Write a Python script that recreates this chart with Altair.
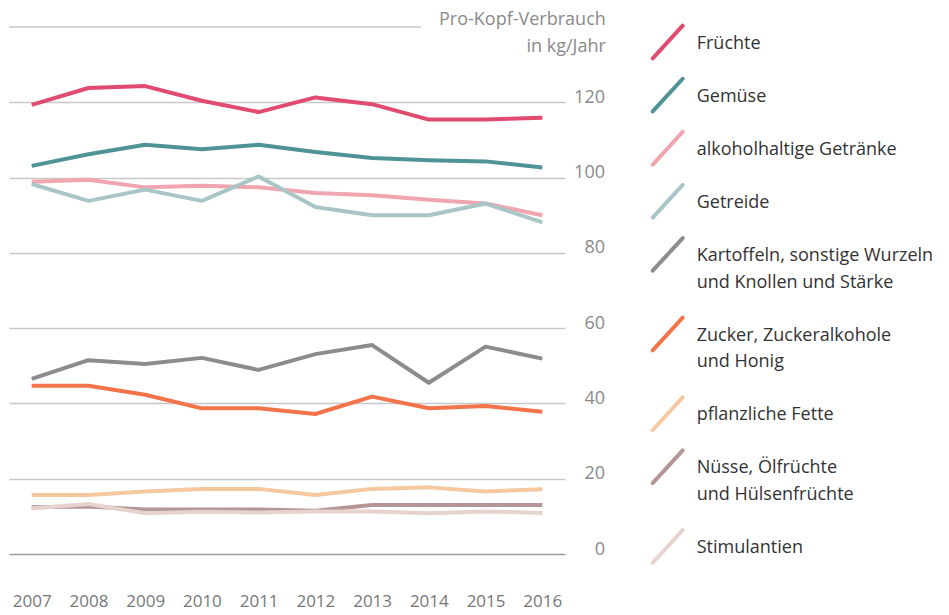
import altair as alt
import pandas as pd

years = [2007, 2008, 2009, 2010, 2011, 2012, 2013, 2014, 2015, 2016]

categories = [
    "Früchte",
    "Gemüse",
    "alkoholhaltige Getränke",
    "Getreide",
    "Kartoffeln, sonstige Wurzeln und Knollen und Stärke",
    "Zucker, Zuckeralkohole und Honig",
    "pflanzliche Fette",
    "Nüsse, Ölfrüchte und Hülsenfrüchte",
    "Stimulantien",
]

legend_lines = [
    ["Früchte"],
    ["Gemüse"],
    ["alkoholhaltige Getränke"],
    ["Getreide"],
    ["Kartoffeln, sonstige Wurzeln", "und Knollen und Stärke"],
    ["Zucker, Zuckeralkohole", "und Honig"],
    ["pflanzliche Fette"],
    ["Nüsse, Ölfrüchte", "und Hülsenfrüchte"],
    ["Stimulantien"],
]

colors = ["#e04b6f", "#4f9396", "#f0a6af", "#a9c5c6", "#8c8c8f",
          "#f3734a", "#f5c8a0", "#b59595", "#e6d3ce"]

fruechte = [119.3, 123.8, 124.3, 120.4, 117.4, 121.3, 119.5, 115.4, 115.4, 115.9]
gemuese = [103.1, 106.2, 108.7, 107.5, 108.7, 106.8, 105.2, 104.6, 104.3, 102.7]
alkohol = [98.9, 99.4, 97.4, 97.8, 97.4, 95.9, 95.3, 94.1, 93.1, 90.0]
getreide = [98.3, 93.8, 96.8, 93.8, 100.3, 92.2, 90.0, 90.0, 93.1, 88.1]
kartoffeln = [46.5, 51.5, 50.5, 52.1, 48.9, 53.1, 55.5, 45.5, 55.1, 51.9]
zucker = [44.7, 44.7, 42.3, 38.7, 38.7, 37.2, 41.8, 38.7, 39.3, 37.8]
fette = [15.7, 15.7, 16.6, 17.3, 17.3, 15.7, 17.3, 17.7, 16.6, 17.2]
nuesse = [12.4, 12.6, 11.8, 11.8, 11.8, 11.5, 13.0, 13.0, 13.0, 13.0]
stimulantien = [12.1, 13.3, 10.8, 11.2, 11.0, 11.3, 11.3, 10.8, 11.3, 10.9]

y_ticks = [0, 20, 40, 60, 80, 100, 120]
y_title = ["Pro-Kopf-Verbrauch", "in kg/Jahr"]

series = [fruechte, gemuese, alkohol, getreide, kartoffeln, zucker, fette, nuesse, stimulantien]

rows = []
for i, (cat, vals) in enumerate(zip(categories, series)):
    for yr, v in zip(years, vals):
        rows.append({"category": cat, "year": yr, "value": v, "order": i})
df = pd.DataFrame(rows)

FONT = "Open Sans"
color_scale = alt.Scale(domain=categories, range=colors)

lines = alt.Chart(df).mark_line(strokeWidth=4, strokeJoin="round").encode(
    x=alt.X("year:Q",
            scale=alt.Scale(domain=[2006.6, 2016.4], nice=False, zero=False),
            axis=alt.Axis(values=years, format="d", title=None, grid=False, ticks=False,
                          domain=False, labelPadding=39, labelFontSize=17,
                          labelColor="#777777", labelFont=FONT, labelFlush=False)),
    y=alt.Y("value:Q",
            scale=alt.Scale(domain=[0, 140], nice=False),
            axis=alt.Axis(orient="right", values=y_ticks, title=y_title,
                          titleX=40.3, titleY=-3, titleAngle=0, titleAlign="right",
                          titleBaseline="alphabetic", titleLineHeight=27,
                          titleFontSize=18, titleFontWeight="normal", titleColor="#8a8a8a",
                          titleFont=FONT,
                          labelAlign="right", labelBaseline="alphabetic", labelPadding=39.5,
                          labelFontSize=18, labelColor="#8a8a8a", labelFont=FONT,
                          ticks=False, domain=False, grid=True,
                          gridColor={"condition": {"test": "datum.value === 0", "value": "#9a9a9a"},
                                     "value": "#c8c8c8"},
                          gridWidth=1.5)),
    color=alt.Color("category:N", scale=color_scale, legend=None),
    order=alt.Order("order:Q"),
)

top_rule = alt.Chart(pd.DataFrame({"v": [140]})).mark_rule(
    color="#c8c8c8", strokeWidth=1.5
).encode(y=alt.datum(140), x=alt.value(0), x2=alt.value(412))

main = alt.layer(top_rule, lines).properties(width=556, height=527)

# legend as its own small chart
slots = []
pos = 0
for ln in legend_lines:
    slots.append(pos)
    pos += 2 + (len(ln) - 1)

leg_df = pd.DataFrame({"category": categories, "slot": slots, "lines": legend_lines})
leg_scale = alt.Scale(domain=[-0.565, 19.775], reverse=True, nice=False, zero=False)

leg_base = alt.Chart(leg_df)
sym = leg_base.mark_rule(strokeWidth=4, strokeCap="round").transform_calculate(
    y0="datum.slot + 0.615", y1="datum.slot - 0.615"
).encode(
    x=alt.value(12.7), x2=alt.value(42.7),
    y=alt.Y("y0:Q", scale=leg_scale, axis=None),
    y2="y1:Q",
    color=alt.Color("category:N", scale=color_scale, legend=None),
)
txt = leg_base.mark_text(align="left", baseline="alphabetic", dy=6.5, fontSize=18,
                         color="#333333", lineHeight=26.7, font=FONT).encode(
    x=alt.value(56.7),
    y=alt.Y("slot:Q", scale=leg_scale, axis=None),
    text="lines",
)
legend = alt.layer(sym, txt).properties(width=290, height=540)

chart = alt.hconcat(main, legend, spacing=34).resolve_scale(
    color="shared"
).properties(
    padding={"left": 0, "top": 2, "right": 4, "bottom": 8}
).configure(font=FONT).configure_view(stroke=None)

chart.save("out.html", embed_options={"renderer": "svg", "actions": False})
